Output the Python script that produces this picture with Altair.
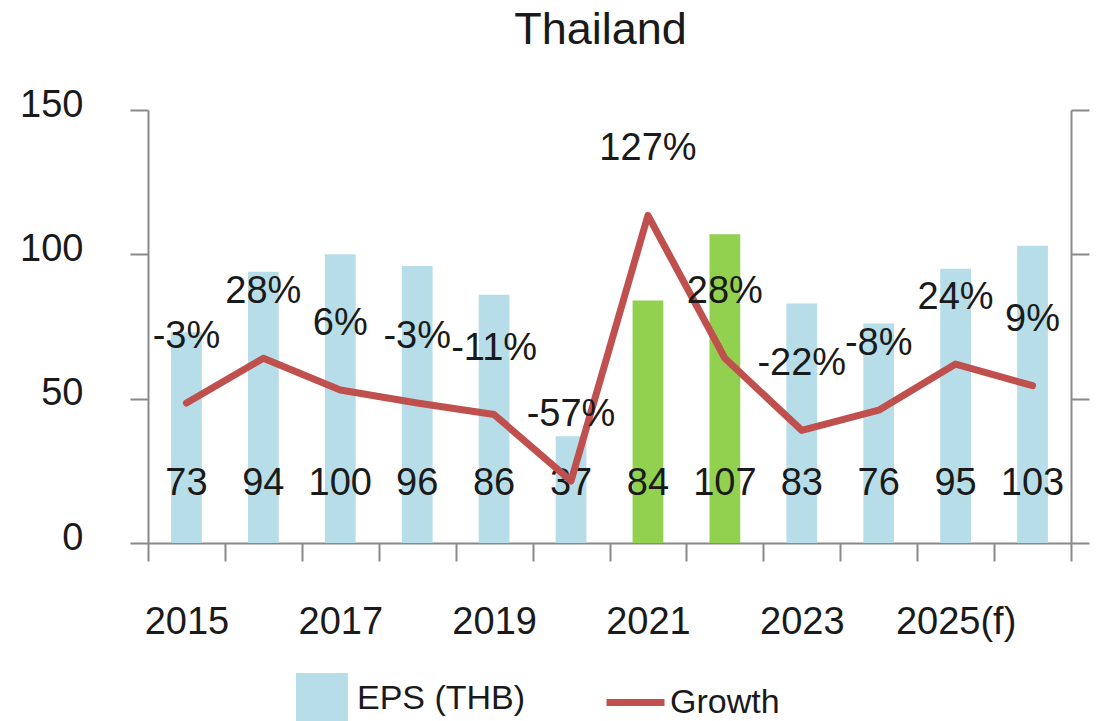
import altair as alt
import pandas as pd

# ---- data ----
years = ["2015", "2016", "2017", "2018", "2019", "2020", "2021", "2022",
         "2023", "2024", "2025(f)", "2026(f)"]
eps = [73, 94, 100, 96, 86, 37, 84, 107, 83, 76, 95, 103]
growth = [-3, 28, 6, -3, -11, -57, 127, 28, -22, -8, 24, 9]
highlight_years = ["2021", "2022"]
x_labels = ["2015", "2017", "2019", "2021", "2023", "2025(f)"]
left_ticks = [0, 50, 100, 150]
right_ticks = [-100, 0, 100, 200]

BLUE = "#B7DEE8"
GREEN = "#92D050"
RED = "#C0504D"
AXIS = "#898989"
TXT = "#1a1a1a"
FONT = "Liberation Sans"
FS = 38
LFS = 34

df = pd.DataFrame({
    "year": years,
    "eps": eps,
    "growth": growth,
    "kind": ["EPS (THB) hl" if y in highlight_years else "EPS (THB)" for y in years],
    "series": ["Growth"] * len(years),
    "base": [0] * len(years),
    "glabel": [f"{g}%" for g in growth],
})

label_list = ",".join(f"'{l}'" for l in x_labels)
x_axis = alt.Axis(
    title=None, tickBand="extent", tickSize=18, labelPadding=42,
    labelExpr=f"indexof([{label_list}], datum.label) >= 0 ? datum.label : ''",
    labelAngle=0, labelFontSize=FS,
)
x_enc = alt.X("year:N", sort=years, axis=x_axis,
              scale=alt.Scale(paddingInner=0, paddingOuter=0))

left_scale = alt.Scale(domain=[0, 150], nice=False, zero=True)
left_axis = alt.Axis(title=None, values=left_ticks, tickSize=18, labelPadding=47,
                     labelFontSize=FS, labelOffset=-5, orient="left")
right_scale = alt.Scale(domain=[-100, 200], nice=False, zero=False)
right_axis = alt.Axis(title=None, values=right_ticks, tickSize=18, labels=False,
                      orient="right")

base = alt.Chart(df)

bars = base.mark_bar(width=alt.RelativeBandSize(0.4)).encode(
    x=x_enc,
    y=alt.Y("eps:Q", scale=left_scale, axis=left_axis),
    fill=alt.Fill("kind:N",
                  scale=alt.Scale(domain=["EPS (THB)", "EPS (THB) hl"], range=[BLUE, GREEN]),
                  legend=alt.Legend(values=["EPS (THB)"], orient="none", legendX=148,
                                    legendY=563, title=None, symbolType="square",
                                    symbolSize=2704, symbolStrokeWidth=0,
                                    labelFontSize=LFS, labelOffset=9, padding=0,
                                    labelLimit=0,
                                    labelFont=FONT, labelColor=TXT)),
)
bar_text = base.mark_text(fontSize=FS, font=FONT, color=TXT, baseline="middle", dy=-59).encode(
    x=x_enc,
    y=alt.Y("base:Q", scale=left_scale, axis=left_axis),
    text="eps:Q",
)

line = base.mark_line(strokeWidth=7, strokeCap="round", strokeJoin="round").encode(
    x=x_enc,
    y=alt.Y("growth:Q", scale=right_scale, axis=right_axis),
    stroke=alt.Stroke("series:N", scale=alt.Scale(domain=["Growth"], range=[RED]),
                      legend=alt.Legend(orient="none", legendX=455, legendY=560, title=None,
                                        symbolType="stroke", symbolSize=3364,
                                        symbolStrokeWidth=7, labelFontSize=LFS,
                                        labelOffset=2, padding=0, labelLimit=0,
                                        labelFont=FONT, labelColor=TXT)),
)
line_text = base.mark_text(fontSize=FS, font=FONT, color=TXT, baseline="middle", dy=-66).encode(
    x=x_enc,
    y=alt.Y("growth:Q", scale=right_scale, axis=right_axis),
    text="glabel:N",
)

chart = alt.layer(
    alt.layer(bars, bar_text),
    alt.layer(line, line_text),
).resolve_scale(y="independent").properties(
    width=923, height=433,
    autosize=alt.AutoSizeParams(type="none"),
    padding={"left": 140, "top": 102, "right": 23, "bottom": 178},
    title=alt.TitleParams("Thailand", fontSize=45, font=FONT, fontWeight="normal",
                          color=TXT, anchor="middle", dx=-9, offset=33),
).configure_axis(
    domainColor=AXIS, tickColor=AXIS, domainWidth=2, tickWidth=2, grid=False,
    labelFont=FONT, labelColor=TXT,
).configure_view(strokeWidth=0)

chart.save("out.html", embed_options={"renderer": "svg", "actions": False})
